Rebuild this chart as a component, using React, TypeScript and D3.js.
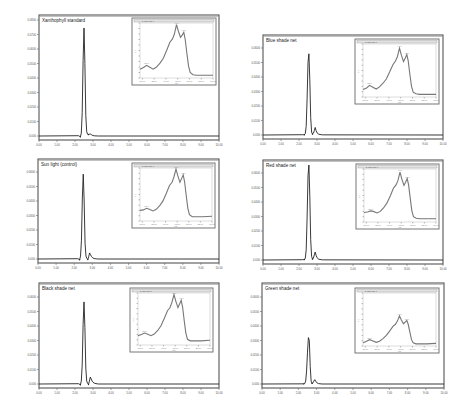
import React from 'react';
import * as d3 from 'd3';

// panel titles
const titles = [
  'Xanthophyll standard',
  'Blue shade net',
  'Sun light (control)',
  'Red shade net',
  'Black shade net',
  'Green shade net',
];

// chromatograms: retention time (min) vs AU
const rtTimes = [0, 2.2, 2.3, 2.35, 2.4, 2.45, 2.5, 2.55, 2.6, 2.65, 2.7, 2.75, 2.8, 2.85, 2.9, 2.95, 3.0, 3.1, 3.3, 10];
const stdAU = [0, 0.0002, -0.0006, 0.002, 0.016, 0.052, 0.0745, 0.05, 0.014, 0.003, 0.0012, 0.001, 0.0012, 0.0014, 0.001, 0.0006, 0.0003, 0.0001, 0, 0];
const blueAU = [0, 0.0002, 0.0002, 0.001, 0.006, 0.025, 0.05, 0.056, 0.038, 0.012, 0.002, 0.0006, 0.0012, 0.003, 0.0052, 0.003, 0.0015, 0.0005, 0.0001, 0];
const sunAU = [0, 0.0002, -0.0005, 0.002, 0.013, 0.042, 0.0585, 0.04, 0.011, 0.002, 0.0005, -0.0004, 0.0015, 0.0042, 0.003, 0.0018, 0.001, 0.0003, 0, 0];
const redAU = [0, 0.0002, 0.0003, 0.0012, 0.007, 0.029, 0.058, 0.0655, 0.044, 0.014, 0.0025, 0.0006, 0.0014, 0.0035, 0.0055, 0.0032, 0.0016, 0.0005, 0.0001, 0];
const blackAU = [0, 0.0002, -0.0005, 0.002, 0.013, 0.041, 0.0566, 0.039, 0.011, 0.002, 0.0005, -0.0004, 0.002, 0.0048, 0.0035, 0.002, 0.0012, 0.0004, 0, 0];
const greenAU = [0, 0.0001, 0.0001, 0.0004, 0.002, 0.009, 0.022, 0.032, 0.03, 0.012, 0.002, 0.0004, 0.0008, 0.002, 0.003, 0.002, 0.001, 0.0003, 0, 0];
const auSeries = [stdAU, blueAU, sunAU, redAU, blackAU, greenAU];

// inset spectra: wavelength (nm) vs AU (relative)
const wavelengths = [290, 305, 318, 330, 346, 360, 375, 389, 403, 417, 428, 436, 445, 453, 462, 469, 476, 482, 489, 496, 503, 515, 530, 560, 600];
const stdSpec = [0.16, 0.19, 0.23, 0.2, 0.16, 0.2, 0.27, 0.36, 0.5, 0.65, 0.71, 0.8, 0.97, 0.85, 0.74, 0.78, 0.83, 0.7, 0.45, 0.22, 0.1, 0.06, 0.05, 0.05, 0.05];
const blueSpec = [0.14, 0.17, 0.22, 0.19, 0.15, 0.19, 0.26, 0.34, 0.47, 0.61, 0.68, 0.76, 0.92, 0.79, 0.67, 0.73, 0.8, 0.68, 0.43, 0.2, 0.09, 0.06, 0.05, 0.05, 0.05];
const sunSpec = [0.2, 0.21, 0.24, 0.22, 0.19, 0.22, 0.29, 0.38, 0.52, 0.67, 0.73, 0.83, 0.98, 0.85, 0.73, 0.8, 0.87, 0.74, 0.48, 0.24, 0.12, 0.08, 0.08, 0.08, 0.09];
const redSpec = [0.18, 0.19, 0.21, 0.2, 0.17, 0.2, 0.27, 0.36, 0.49, 0.64, 0.7, 0.78, 0.94, 0.81, 0.69, 0.75, 0.82, 0.7, 0.45, 0.21, 0.1, 0.07, 0.06, 0.06, 0.06];
const blackSpec = [0.18, 0.2, 0.23, 0.21, 0.18, 0.21, 0.28, 0.37, 0.51, 0.66, 0.72, 0.82, 0.97, 0.84, 0.72, 0.79, 0.86, 0.73, 0.47, 0.23, 0.11, 0.08, 0.08, 0.08, 0.09];
const greenSpec = [0.06, 0.09, 0.12, 0.1, 0.07, 0.09, 0.14, 0.2, 0.28, 0.37, 0.41, 0.47, 0.57, 0.49, 0.42, 0.45, 0.48, 0.41, 0.26, 0.12, 0.06, 0.04, 0.04, 0.04, 0.05];
const specSeries = [stdSpec, blueSpec, sunSpec, redSpec, blackSpec, greenSpec];

// ticks
const timeTicks = [0, 1, 2, 3, 4, 5, 6, 7, 8, 9, 10];
const stdAuTicks = [0, 0.01, 0.02, 0.03, 0.04, 0.05, 0.06, 0.07, 0.08];
const auTicks = [0, 0.01, 0.02, 0.03, 0.04, 0.05, 0.06];
const nmTicks = [300, 350, 400, 450, 500, 550, 600];
const specTicks = [0, 0.1, 0.2, 0.3, 0.4, 0.5, 0.6, 0.7, 0.8, 0.9, 1.0];
const peakNm = [318, 445, 476];
const peakTag = ['329.3', '445.6', '473.9'];

// layout of the six panels (frame + inset box)
const frames = [
  { left: 39, right: 219, top: 15, zero: 136, inset: [132, 18, 216, 85] },
  { left: 263, right: 443, top: 35, zero: 135, inset: [355, 39, 439, 104] },
  { left: 38, right: 219, top: 159, zero: 259, inset: [132, 163, 215, 228] },
  { left: 263, right: 443, top: 160, zero: 260, inset: [356, 164, 439, 229] },
  { left: 39, right: 219, top: 283, zero: 384, inset: [130, 288, 213, 352] },
  { left: 262, right: 444, top: 283, zero: 384, inset: [355, 288, 439, 353] },
];

const fmtAU = (d: number) => (d === 0 ? '0.000' : d3.format('.4f')(d));
const fmtT = d3.format('.2f');
const font = 'Liberation Sans, Arial, sans-serif';

const Panel = ({ i }: { i: number }) => {
  const f = frames[i];
  const yT = i === 0 ? stdAuTicks : auTicks;
  const yMax = yT[yT.length - 1];
  const x = d3.scaleLinear().domain([0, 10]).range([f.left, f.right]);
  const y = d3.scaleLinear().domain([0, yMax]).range([f.zero, f.zero - (yT.length - 1) * 14.5]);
  const au = auSeries[i];
  const pts = rtTimes.map((t, k) => [t, au[k]] as [number, number]);
  const line = d3
    .line<[number, number]>()
    .x((d) => x(d[0]))
    .y((d) => y(d[1]));

  // inset
  const [L, T, R, B] = f.inset;
  const sx = d3.scaleLinear().domain([290, 600]).range([L + 8, R - 3]);
  const sy = d3.scaleLinear().domain([0, 1]).range([B - 7, T + 5]);
  const spec = specSeries[i];
  const sPts = wavelengths.map((w, k) => [w, spec[k]] as [number, number]);
  const sLine = d3
    .line<[number, number]>()
    .x((d) => sx(d[0]))
    .y((d) => sy(d[1]));

  return (
    <g fontFamily={font}>
      {/* frame */}
      <rect x={f.left} y={f.top} width={f.right - f.left} height={f.zero + 4 - f.top} fill="#fff" stroke="#555" strokeWidth={1.1} />
      <line x1={f.left} x2={f.right} y1={f.top + 1.5} y2={f.top + 1.5} stroke="#999" strokeWidth={0.6} />
      <text x={f.left + 3} y={f.top + 7} fontSize={4.6} fill="#222">
        {titles[i]}
      </text>

      {/* y axis */}
      {yT.map((t) => (
        <g key={t}>
          <line x1={f.left - 2} x2={f.left} y1={y(t)} y2={y(t)} stroke="#666" strokeWidth={0.6} />
          <text x={f.left - 3} y={y(t) + 1} fontSize={2.8} textAnchor="end" fill="#555">
            {fmtAU(t)}
          </text>
        </g>
      ))}

      {/* x axis */}
      {timeTicks.map((t) => (
        <g key={t}>
          <line x1={x(t)} x2={x(t)} y1={f.zero + 4} y2={f.zero + 6} stroke="#666" strokeWidth={0.6} />
          <text x={x(t)} y={f.zero + 10} fontSize={2.8} textAnchor="middle" fill="#555">
            {fmtT(t)}
          </text>
        </g>
      ))}

      {/* trace */}
      <path d={line(pts) || ''} fill="none" stroke="#222" strokeWidth={0.9} />
      <circle cx={x(rtTimes[2])} cy={y(au[2])} r={0.7} fill="#222" />
      <circle cx={x(rtTimes[11])} cy={y(au[11])} r={0.7} fill="#222" />

      {/* inset spectrum */}
      <rect x={L} y={T} width={R - L} height={B - T} fill="#fff" stroke="#777" strokeWidth={1} />
      <rect x={L + 2} y={T + 1.5} width={R - L - 4} height={2.5} fill="#e2e2e2" stroke="#999" strokeWidth={0.4} />
      <text x={L + 10} y={T + 3.6} fontSize={2} fill="#555">
        {'2.485 Peak 1'}
      </text>
      <rect x={L + 8} y={T + 5} width={R - 3 - (L + 8)} height={B - 7 - (T + 5)} fill="none" stroke="#bbb" strokeWidth={0.5} />
      {specTicks.map((t) => (
        <line key={t} x1={L + 6.5} x2={L + 8} y1={sy(t)} y2={sy(t)} stroke="#777" strokeWidth={0.5} />
      ))}
      {nmTicks.map((t) => (
        <g key={t}>
          <line x1={sx(t)} x2={sx(t)} y1={B - 7} y2={B - 5.5} stroke="#777" strokeWidth={0.5} />
          <text x={sx(t)} y={B - 3.4} fontSize={1.8} textAnchor="middle" fill="#777">
            {t.toFixed(2)}
          </text>
        </g>
      ))}
      <text x={(L + 8 + R - 3) / 2} y={B - 1} fontSize={2} textAnchor="middle" fill="#777">
        nm
      </text>
      <text transform={`translate(${L + 4},${(T + B) / 2}) rotate(-90)`} fontSize={2} textAnchor="middle" fill="#777">
        AU
      </text>
      <path d={sLine(sPts) || ''} fill="none" stroke="#777" strokeWidth={1.1} />
      {peakNm.map((w, k) => (
        <text key={w} x={sx(w)} y={sy(spec[wavelengths.indexOf(w)]) - 1} fontSize={1.8} textAnchor="middle" fill="#888">
          {peakTag[k]}
        </text>
      ))}
    </g>
  );
};

export default function App() {
  return (
    <svg width={465} height={411} style={{ position: 'absolute', left: 0, top: 0, background: '#fff' }}>
      <rect width={465} height={411} fill="#fff" />
      {frames.map((_, i) => (
        <Panel key={i} i={i} />
      ))}
    </svg>
  );
}
